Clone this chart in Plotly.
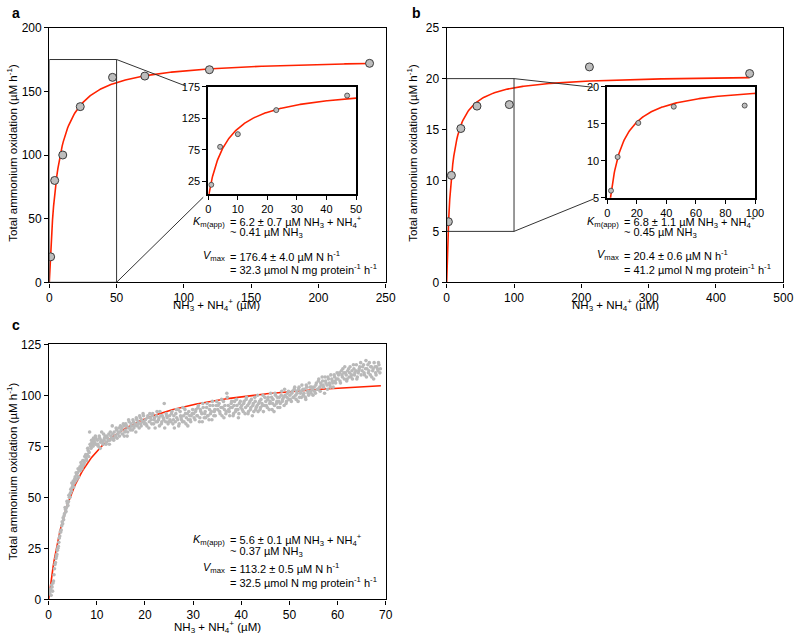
import plotly.graph_objects as go

# ---------------- data ----------------
# panel a (main + inset share the same measurements)
a_x = [1, 4, 10, 23, 47, 71, 119, 238]
a_y = [20, 80, 100, 138, 161, 162, 167, 172]
a_inset_x = [1, 4, 10, 23, 47]
a_inset_y = [20, 80, 100, 138, 161]
a_km, a_vmax = 6.2, 176.4

# panel b
b_x = [2.5, 7, 21, 45, 93, 212, 450]
b_y = [5.95, 10.5, 15.1, 17.3, 17.45, 21.15, 20.5]
b_inset_x = [2.5, 7, 21, 45, 93]
b_inset_y = [5.95, 10.5, 15.1, 17.3, 17.45]
b_km, b_vmax = 6.8, 20.4

c_x = [0.2,0.4,0.5,0.7,0.9,1.1,1.3,1.5,1.7,1.9,2.1,2.3,2.5,2.7,2.9,3.1,3.3,3.5,3.7,3.9,4.1,4.3,4.5,4.7,4.9,
       0.3,0.6,0.8,1.0,1.2,1.4,1.6,1.8,2.0,2.2,2.4,2.6,2.8,3.0,3.2,3.4,3.6,3.8,4.0,4.2,4.4,4.6,4.8,
       5.0,5.2,5.4,5.6,5.8,6.0,6.2,6.4,6.6,6.8,7.0,7.2,7.4,7.6,7.8,8.0,8.2,8.4,8.6,8.8,9.0,9.2,9.4,9.6,9.8,
       5.1,5.3,5.5,5.7,5.9,6.1,6.3,6.5,6.7,6.9,7.1,7.3,7.5,7.7,7.9,8.1,8.3,8.5,8.7,8.9,9.1,9.3,9.5,9.7,9.9,
       10.1,10.3,10.6,10.8,11.0,11.3,11.5,11.7,12.0,12.2,12.5,12.7,12.9,13.2,13.4,13.6,13.9,14.1,14.3,14.6,14.8,
       10.2,10.5,10.7,10.9,11.2,11.4,11.6,11.9,12.1,12.4,12.6,12.8,13.1,13.3,13.5,13.8,14.0,14.2,14.5,14.7,14.9,
       15.1,15.3,15.6,15.8,16.0,16.3,16.5,16.7,17.0,17.2,17.5,17.7,17.9,18.2,18.4,18.6,18.9,19.1,19.3,19.6,19.8,
       15.2,15.5,15.7,15.9,16.2,16.4,16.6,16.9,17.1,17.4,17.6,17.8,18.1,18.3,18.5,18.8,19.0,19.2,19.5,19.7,19.9,
       20.1,20.4,20.6,20.9,21.1,21.4,21.6,21.9,22.1,22.4,22.6,22.9,23.1,23.4,23.6,23.9,24.1,24.4,24.6,24.9,
       20.2,20.5,20.8,21.0,21.3,21.5,21.8,22.0,22.3,22.5,22.8,23.0,23.3,23.5,23.8,24.0,24.3,24.5,24.8,
       25.1,25.4,25.6,25.9,26.1,26.4,26.6,26.9,27.1,27.4,27.6,27.9,28.1,28.4,28.6,28.9,29.1,29.4,29.6,29.9,
       25.2,25.5,25.8,26.0,26.3,26.5,26.8,27.0,27.3,27.5,27.8,28.0,28.3,28.5,28.8,29.0,29.3,29.5,29.8,
       30.1,30.4,30.6,30.9,31.1,31.4,31.6,31.9,32.1,32.4,32.6,32.9,33.1,33.4,33.6,33.9,34.1,34.4,34.6,34.9,
       30.2,30.5,30.8,31.0,31.3,31.5,31.8,32.0,32.3,32.5,32.8,33.0,33.3,33.5,33.8,34.0,34.3,34.5,34.8,
       35.1,35.4,35.6,35.9,36.1,36.4,36.6,36.9,37.1,37.4,37.6,37.9,38.1,38.4,38.6,38.9,39.1,39.4,39.6,39.9,
       35.2,35.5,35.8,36.0,36.3,36.5,36.8,37.0,37.3,37.5,37.8,38.0,38.3,38.5,38.8,39.0,39.3,39.5,39.8,
       40.1,40.4,40.6,40.9,41.1,41.4,41.6,41.9,42.1,42.4,42.6,42.9,43.1,43.4,43.6,43.9,44.1,44.4,44.6,44.9,
       40.2,40.5,40.8,41.0,41.3,41.5,41.8,42.0,42.3,42.5,42.8,43.0,43.3,43.5,43.8,44.0,44.3,44.5,44.8,
       45.1,45.4,45.6,45.9,46.1,46.4,46.6,46.9,47.1,47.4,47.6,47.9,48.1,48.4,48.6,48.9,49.1,49.4,49.6,49.9,
       45.2,45.5,45.8,46.0,46.3,46.5,46.8,47.0,47.3,47.5,47.8,48.0,48.3,48.5,48.8,49.0,49.3,49.5,49.8,
       50.1,50.4,50.6,50.9,51.1,51.4,51.6,51.9,52.1,52.4,52.6,52.9,53.1,53.4,53.6,53.9,54.1,54.4,54.6,54.9,
       50.2,50.5,50.8,51.0,51.3,51.5,51.8,52.0,52.3,52.5,52.8,53.0,53.3,53.5,53.8,54.0,54.3,54.5,54.8,
       55.1,55.4,55.6,55.9,56.1,56.4,56.6,56.9,57.1,57.4,57.6,57.9,58.1,58.4,58.6,58.9,59.1,59.4,59.6,59.9,
       55.2,55.5,55.8,56.0,56.3,56.5,56.8,57.0,57.3,57.5,57.8,58.0,58.3,58.5,58.8,59.0,59.3,59.5,59.8,
       60.1,60.4,60.6,60.9,61.1,61.4,61.6,61.9,62.1,62.4,62.6,62.9,63.1,63.4,63.6,63.9,64.1,64.4,64.6,64.9,
       60.2,60.5,60.8,61.0,61.3,61.5,61.8,62.0,62.3,62.5,62.8,63.0,63.3,63.5,63.8,64.0,64.3,64.5,64.8,
       65.1,65.4,65.6,65.9,66.1,66.4,66.6,66.9,67.1,67.4,67.6,67.9,68.1,68.4,68.6,68.9,
       65.2,65.5,65.8,66.0,66.3,66.5,66.8,67.0,67.3,67.5,67.8,68.0,68.3,68.5,68.8]
c_y = [3,5,2,6,8,12,17,20,22,25,28,31,33,36,37,39,42,44,45,47,48,50,52,53,55,
       4,7,4,9,15,18,21,24,26,30,33,34,38,40,41,45,43,48,46,51,50,54,57,
       56,55,59,58,61,62,60,64,63,66,65,68,67,70,69,71,73,72,76,74,77,75,78,76,79,
       58,57,60,62,59,64,63,65,67,64,68,66,70,71,68,74,70,82,75,78,76,79,77,80,76,
       78,75,79,77,82,76,78,80,77,79,81,78,80,85,79,82,80,83,81,84,82,
       76,80,74,78,77,81,79,76,80,78,76,82,79,81,78,80,84,79,82,80,85,
       83,81,85,82,86,80,84,87,83,85,88,84,86,89,85,87,90,86,88,91,87,
       84,86,80,83,85,82,88,84,86,83,87,85,82,88,86,84,89,85,87,90,86,
       88,85,90,87,89,86,91,88,84,90,87,89,92,86,90,88,84,91,89,87,
       86,89,84,91,88,90,86,89,87,92,88,85,90,87,89,96,87,90,86,
       90,87,92,88,84,91,89,93,86,90,88,94,87,91,89,85,92,88,90,93,
       88,91,86,90,87,93,88,85,92,89,87,90,93,86,91,88,90,87,91,
       91,88,93,90,95,89,92,87,94,91,89,96,90,93,91,88,95,92,90,97,
       89,92,90,94,87,93,91,96,89,92,94,90,88,95,92,97,90,93,95,
       93,96,91,98,94,89,95,92,99,93,90,96,94,91,97,93,95,89,96,94,
       95,92,94,90,97,93,91,101,95,92,94,97,90,95,92,98,93,91,97,
       95,92,97,94,99,91,96,93,98,95,92,97,94,100,96,93,98,95,92,99,
       93,96,91,98,95,92,97,94,90,96,99,93,95,92,97,94,96,100,95,
       97,94,99,96,101,93,98,95,100,97,94,99,96,102,98,95,100,97,101,98,
       95,98,93,97,99,96,92,101,96,99,97,94,100,97,99,103,96,99,102,
       100,97,102,99,104,98,101,103,99,102,105,100,103,98,104,101,106,102,104,100,
       98,101,99,103,100,102,97,104,101,99,103,101,99,105,102,100,104,101,103,
       104,101,106,103,108,102,105,107,104,109,106,103,108,105,110,107,104,109,106,111,
       102,105,103,107,104,106,109,105,101,107,105,109,106,104,108,106,110,107,108,
       108,111,106,110,113,108,111,107,112,109,114,110,108,113,111,115,109,112,114,110,
       110,107,112,109,111,114,110,108,113,111,109,112,115,110,112,108,111,113,116,
       112,115,110,117,113,111,116,114,109,113,116,111,114,112,115,113,
       114,111,113,109,115,112,110,114,112,108,114,110,113,116,111]
c_km, c_vmax = 5.6, 113.2


def mm_curve(km, vmax, x_end, n=300):
    xs = [x_end * i / (n - 1) for i in range(n)]
    return xs, [vmax * s / (km + s) for s in xs]


# ---------------- styling ----------------
FONT = "Liberation Sans, Arial, sans-serif"
RED = "#ff2200"
PT_FILL = "#bdbdbd"
PT_EDGE = "#3a3a3a"
W, H = 800, 642


def px(x):
    return x / W


def py(y):
    return 1 - y / H


fig = go.Figure()

# ---- panel a ----
cx, cy = mm_curve(a_km, a_vmax, 238)
fig.add_trace(go.Scatter(x=cx, y=cy, mode="lines", line=dict(color=RED, width=1.6),
                         xaxis="x", yaxis="y", hoverinfo="skip"))
fig.add_trace(go.Scatter(x=a_x, y=a_y, mode="markers",
                         marker=dict(size=8, color=PT_FILL, line=dict(color=PT_EDGE, width=1)),
                         xaxis="x", yaxis="y"))
cx, cy = mm_curve(a_km, a_vmax, 50)
fig.add_trace(go.Scatter(x=cx, y=cy, mode="lines", line=dict(color=RED, width=1.6),
                         xaxis="x2", yaxis="y2", hoverinfo="skip"))
fig.add_trace(go.Scatter(x=a_inset_x, y=a_inset_y, mode="markers",
                         marker=dict(size=5, color=PT_FILL, line=dict(color=PT_EDGE, width=0.8)),
                         xaxis="x2", yaxis="y2"))

# ---- panel b ----
cx, cy = mm_curve(b_km, b_vmax, 450)
fig.add_trace(go.Scatter(x=cx, y=cy, mode="lines", line=dict(color=RED, width=1.6),
                         xaxis="x3", yaxis="y3", hoverinfo="skip"))
fig.add_trace(go.Scatter(x=b_x, y=b_y, mode="markers",
                         marker=dict(size=8, color=PT_FILL, line=dict(color=PT_EDGE, width=1)),
                         xaxis="x3", yaxis="y3"))
cx, cy = mm_curve(b_km, b_vmax, 100)
fig.add_trace(go.Scatter(x=cx, y=cy, mode="lines", line=dict(color=RED, width=1.6),
                         xaxis="x4", yaxis="y4", hoverinfo="skip"))
fig.add_trace(go.Scatter(x=b_inset_x, y=b_inset_y, mode="markers",
                         marker=dict(size=5, color=PT_FILL, line=dict(color=PT_EDGE, width=0.8)),
                         xaxis="x4", yaxis="y4"))

# ---- panel c ----
cx, cy = mm_curve(c_km, c_vmax, 69)
fig.add_trace(go.Scatter(x=cx, y=cy, mode="lines", line=dict(color=RED, width=1.6),
                         xaxis="x5", yaxis="y5", hoverinfo="skip"))
fig.add_trace(go.Scatter(x=c_x, y=c_y, mode="markers",
                         marker=dict(size=3.6, color="#b9b9b9"),
                         xaxis="x5", yaxis="y5"))


def ax(domain, rng, dtick, anchor, tick0=0, fs=12, lw=1.4, tickvals=None):
    d = dict(domain=domain, range=rng, anchor=anchor, showline=True, linecolor="black",
             linewidth=lw, mirror=True, ticks="outside", ticklen=4, tickwidth=1.2,
             tickcolor="black", showgrid=False, zeroline=False, automargin=False,
             tickfont=dict(size=fs, family=FONT, color="black"))
    if tickvals is not None:
        d["tickvals"] = tickvals
    else:
        d["tick0"] = tick0
        d["dtick"] = dtick
    return d


fig.update_layout(
    width=W, height=H, autosize=False,
    margin=dict(l=0, r=0, t=0, b=0, pad=0, autoexpand=False),
    paper_bgcolor="white", plot_bgcolor="white",
    showlegend=False,
    font=dict(family=FONT, color="black"),
    xaxis=ax([px(49.3), px(385.7)], [0, 250], 50, "y"),
    yaxis=ax([py(282.3), py(27.7)], [0, 200], 50, "x"),
    xaxis2=ax([px(208.3), px(356)], [0, 50], 10, "y2", fs=11, lw=1.8),
    yaxis2=ax([py(194.3), py(86.7)], [5, 175], None, "x2", fs=11, lw=1.8,
              tickvals=[25, 75, 125, 175]),
    xaxis3=ax([px(446.7), px(783.3)], [0, 500], 100, "y3"),
    yaxis3=ax([py(282.3), py(27.7)], [0, 25], 5, "x3"),
    xaxis4=ax([px(607.3), px(755)], [0, 100], 20, "y4", fs=11, lw=1.8),
    yaxis4=ax([py(197.7), py(86.7)], [5, 20], 5, "x4", fs=11, lw=1.8, tick0=5),
    xaxis5=ax([px(48.7), px(385.7)], [0, 70], 10, "y5"),
    yaxis5=ax([py(599.3), py(344.3)], [0, 125], 25, "x5"),
)

# zoom boxes and connector lines
LC = dict(color="#333333", width=1)
shapes = [
    dict(type="rect", xref="x", yref="y", x0=0, y0=0, x1=50, y1=175, line=LC),
    dict(type="line", xref="x", yref="y", x0=50, y0=175, x1=101.4, y1=154.2, line=LC),
    dict(type="line", xref="x", yref="y", x0=50, y0=0, x1=114.4, y1=66.8, line=LC),
    dict(type="rect", xref="x3", yref="y3", x0=0, y0=5, x1=100, y1=20, line=LC),
    dict(type="line", xref="x3", yref="y3", x0=100, y0=20, x1=217.4, y1=19.15, line=LC),
    dict(type="line", xref="x3", yref="y3", x0=100, y0=5, x1=218.9, y1=8.2, line=LC),
]
fig.update_layout(shapes=shapes)

ann = []


def text(x, y, s, xanchor="left", size=11, angle=0, yanchor="middle"):
    ann.append(dict(x=px(x), y=py(y), xref="paper", yref="paper", text=s, showarrow=False,
                    xanchor=xanchor, yanchor=yanchor, textangle=angle,
                    font=dict(size=size, family=FONT, color="black")))


# panel letters
text(10, 13, "<b>a</b>", size=14)
text(410, 13, "<b>b</b>", size=14)
text(10, 325, "<b>c</b>", size=14)

# axis titles
YT = "Total ammonium oxidation (µM h<sup>-1</sup>)"
XT = "NH<sub>3</sub> + NH<sub>4</sub><sup>+</sup> (µM)"
text(11.7, 153, YT, xanchor="center", size=11.5, angle=-90)
text(411.7, 153, YT, xanchor="center", size=11.5, angle=-90)
text(11.7, 471.5, YT, xanchor="center", size=11.5, angle=-90)
text(216.7, 304.5, XT, xanchor="center", size=11.5)
text(615, 304.5, XT, xanchor="center", size=11.5)
text(217, 627, XT, xanchor="center", size=11.5)


def kin_block(xeq, ys, km, ks, nh3, vmax, vs, spec):
    KL = "<i>K</i><sub>m(app)</sub>"
    VL = "<i>V</i><sub>max</sub>"
    text(xeq - 1.5, ys[0], KL, xanchor="right")
    text(xeq, ys[0], f"= {km} ± {ks} µM NH<sub>3</sub> + NH<sub>4</sub><sup>+</sup>")
    text(xeq, ys[1], f"~ {nh3} µM NH<sub>3</sub>")
    text(xeq - 1.5, ys[2], VL, xanchor="right")
    text(xeq, ys[2], f"= {vmax} ± {vs} µM N h<sup>-1</sup>")
    text(xeq, ys[3], f"= {spec} µmol N mg protein<sup>-1</sup> h<sup>-1</sup>")


kin_block(228, [222, 233.5, 256, 268.5], "6.2", "0.7", "0.41", "176.4", "4.0", "32.3")
kin_block(622, [222, 233.5, 255, 268.5], "6.8", "1.1", "0.45", "20.4", "0.6", "41.2")
kin_block(228, [540, 551.7, 568.3, 581.7], "5.6", "0.1", "0.37", "113.2", "0.5", "32.5")

fig.update_layout(annotations=ann)

# the page's default 8 px body margin would push the figure off the window
fig.write_html("out.html",
               config={"displayModeBar": False},
               post_script="document.body.style.margin='0px';document.body.style.padding='0px';")
